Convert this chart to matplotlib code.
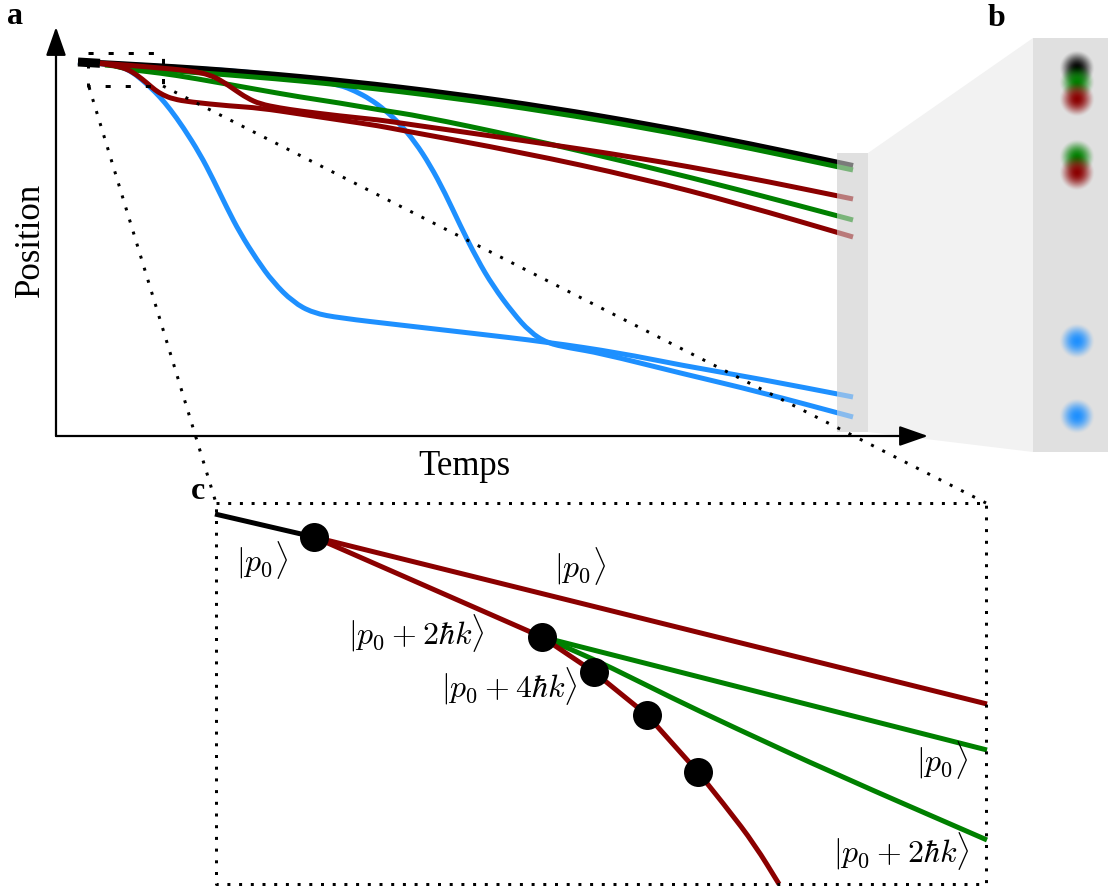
import numpy as np
import matplotlib
matplotlib.use('Agg')
import matplotlib.pyplot as plt
from matplotlib.path import Path
from matplotlib.patches import PathPatch, Rectangle, Polygon
from matplotlib.colors import to_rgb

plt.rcParams['mathtext.fontset'] = 'cm'
plt.rcParams['font.family'] = ['Liberation Serif', 'DejaVu Serif']

# ---------------- data (figure pixel coordinates) -------------
BLUE = '#1E90FF'
GREEN = '#008000'
RED = '#8B0000'
BLACK = '#000000'

# panel a trajectories
black_x = [78, 150, 250, 350, 450, 550, 650, 750, 853]
black_y = [62, 65.4, 72.3, 81.7, 93.6, 107.9, 124.8, 144.1, 166]

greenA_x = [105, 150, 250, 350, 450, 550, 650, 750, 853]
greenA_y = [65, 69.4, 76.3, 85.7, 97.6, 111.9, 128.8, 148.1, 170]

greenB_x = [115, 125, 160, 193, 260, 300, 340, 380, 420, 520, 640, 740, 853]
greenB_y = [66, 69, 73, 78, 90, 97, 103, 110, 116, 137, 165, 190, 220]

red1_x = [100, 150, 193, 210, 222, 235, 247, 260, 280, 300, 340, 380, 400, 520, 640, 740, 853]
red1_y = [63, 67, 71, 75, 81, 90, 98, 104, 108, 111, 116, 120, 123, 140, 158, 176, 199]

red2_x = [100, 115, 127, 137, 147, 155, 163, 173, 190, 230, 260, 300, 340, 380, 400, 520, 640, 740, 853]
red2_y = [63.5, 65.5, 69, 75, 83, 90, 95, 99, 102, 106, 108, 114, 120, 126, 130, 152, 178, 204, 237]

blue1_x = [78, 110, 122, 132, 141, 150, 160, 170, 183, 200, 213, 227, 240, 257, 273, 293, 313, 340,
           400, 470, 547, 620, 680, 760, 853]
blue1_y = [62, 64, 67, 72, 79, 87, 97, 109, 127, 154, 179, 208, 233, 260, 282, 302, 313, 318,
           325, 333, 342, 353, 365, 379, 397]

blue2_x = [78, 200, 300, 340, 355, 370, 385, 400, 415, 430, 445, 460, 477, 493, 513, 530, 547,
           570, 600, 680, 760, 853]
blue2_y = [62, 68, 77, 85, 91, 99, 110, 124, 142, 165, 193, 225, 259, 286, 313, 332, 343,
           348, 353, 373, 392, 417]

# panel b: atom clouds (x, y, colour)
cloud_x = [1077, 1077, 1077, 1077, 1077, 1077, 1077]
cloud_y = [68, 82, 99, 157, 173, 341, 416]
cloud_c = [BLACK, GREEN, RED, GREEN, RED, BLUE, BLUE]

# panel c
c_black_x = [215, 314]
c_black_y = [514, 537]
c_redup_x = [314, 987]
c_redup_y = [537, 704]
c_redlow_x = [314, 542, 594, 647, 698]
c_redlow_y = [537, 637, 672, 715, 772]
c_redtail_x = [698, 727, 755, 779]
c_redtail_y = [772, 808, 845, 884]
c_greenup_x = [542, 987]
c_greenup_y = [637, 750]
c_greenlow_x = [542, 575, 610, 670, 733, 833, 987]
c_greenlow_y = [637, 651, 667, 697, 727, 773, 840]
dots_x = [314, 542, 594, 647, 698]
dots_y = [537, 637, 672, 715, 772]

c_labels = [r'$|p_0\rangle$', r'$|p_0\rangle$', r'$|p_0 + 2\hbar k\rangle$',
            r'$|p_0 + 4\hbar k\rangle$', r'$|p_0\rangle$', r'$|p_0 + 2\hbar k\rangle$']
c_label_x = [262, 580, 416, 509, 942, 901]
c_label_y = [560, 566, 633, 686, 760, 851]

# ---------------- drawing -------------
PX = 0.72  # points per pixel at dpi 100
LWC = 5.0  # coloured line width in px

fig = plt.figure(figsize=(11.08, 8.88), dpi=100)
ax = fig.add_axes([0, 0, 1, 1])
ax.set_xlim(0, 1108)
ax.set_ylim(888, 0)
ax.axis('off')


def smooth_path(xs, ys):
    pts = np.column_stack([xs, ys]).astype(float)
    verts = [pts[0]]
    codes = [Path.MOVETO]
    for i in range(1, len(pts) - 1):
        mid = (pts[i] + pts[i + 1]) / 2
        verts += [pts[i], mid]
        codes += [Path.CURVE3, Path.CURVE3]
    verts.append(pts[-1])
    codes.append(Path.LINETO)
    return Path(verts, codes)


def curve(xs, ys, color, lw_px, z):
    p = PathPatch(smooth_path(xs, ys), fill=False, edgecolor=color,
                  lw=lw_px * PX, zorder=z, capstyle='butt', joinstyle='round')
    ax.add_patch(p)


# grey screens (panel a end + panel b)
GREY = '#e0e0e0'
ax.add_patch(Rectangle((837, 153), 31, 279, facecolor=GREY, edgecolor='none', zorder=1))
ax.add_patch(Polygon([(868, 153), (1033, 38), (1033, 452), (868, 432)],
                     closed=True, facecolor='#f2f2f2', edgecolor='none', zorder=1))
ax.add_patch(Rectangle((1033, 38), 75, 414, facecolor=GREY, edgecolor='none', zorder=1))

# trajectories panel a
curve(blue1_x, blue1_y, BLUE, LWC, 2)
curve(blue2_x, blue2_y, BLUE, LWC, 2)
curve(black_x, black_y, BLACK, 6, 3)
ax.plot([78, 100], [62, 63.3], color=BLACK, lw=9 * PX, solid_capstyle='butt', zorder=3)
curve(greenA_x, greenA_y, GREEN, LWC, 4)
curve(greenB_x, greenB_y, GREEN, LWC, 4)
curve(red1_x, red1_y, RED, LWC, 5)
curve(red2_x, red2_y, RED, LWC, 5)

# translucent screen over the line ends
ax.add_patch(Rectangle((837, 153), 31, 279, facecolor=GREY, edgecolor='none',
                       alpha=0.55, zorder=6))

# axes arrows
arrow_kw = dict(arrowstyle='-|>,head_length=0.8,head_width=0.28', color='k',
                lw=1.6, shrinkA=0, shrinkB=0, mutation_scale=22)
ax.annotate('', xy=(56, 27), xytext=(56, 436), arrowprops=arrow_kw, zorder=8)
ax.annotate('', xy=(928, 436), xytext=(56, 436), arrowprops=arrow_kw, zorder=8)

# atom clouds panel b
gx = np.linspace(-20, 20, 81)
GX, GY = np.meshgrid(gx, gx)
R = np.hypot(GX, GY)
alpha = np.clip(1 - (R / 18.0) ** 2, 0, 1) ** 1.6
for cx, cy, col in zip(cloud_x, cloud_y, cloud_c):
    rgba = np.zeros((81, 81, 4))
    rgba[..., :3] = to_rgb(col)
    rgba[..., 3] = alpha
    ax.imshow(rgba, extent=(cx - 20, cx + 20, cy + 20, cy - 20), interpolation='bilinear',
              zorder=3, aspect='auto')
ax.set_xlim(0, 1108)
ax.set_ylim(888, 0)

# zoom box in panel a + connecting dotted lines
dash_kw = dict(color='k', lw=3 * PX, dashes=(1.7, 5), zorder=7)
ax.plot([88, 163, 163, 88, 88], [53, 53, 86, 86, 53], **dash_kw)
dot_kw = dict(color='k', lw=3 * PX, dashes=(1, 3.2), zorder=7)
ax.plot([89, 216], [87, 503], **dot_kw)
ax.plot([163, 986], [86, 503], **dot_kw)

# panel c box
ax.plot([216, 986, 986, 216, 216], [503, 503, 884, 884, 503], color='k', lw=3 * PX,
        dashes=(1, 2.9), zorder=7)

# panel c lines
LW = LWC * PX
ax.plot(c_black_x, c_black_y, color=BLACK, lw=LW, zorder=4, solid_capstyle='butt')
ax.plot(c_redup_x, c_redup_y, color=RED, lw=LW, zorder=5, solid_capstyle='butt')
ax.plot(c_greenup_x, c_greenup_y, color=GREEN, lw=LW, zorder=4, solid_capstyle='butt')
curve(c_greenlow_x, c_greenlow_y, GREEN, LWC, 4)
ax.plot(c_redlow_x, c_redlow_y, color=RED, lw=LW, zorder=5, solid_capstyle='round',
        solid_joinstyle='round')
curve(c_redtail_x, c_redtail_y, RED, LWC, 5)
ax.scatter(dots_x, dots_y, s=(29 * PX) ** 2, color='k', zorder=9, linewidths=0)

for t, x, y in zip(c_labels, c_label_x, c_label_y):
    ax.text(x, y, t, fontsize=23, ha='center', va='center', zorder=10)

# texts
ax.text(30, 240, 'Position', fontsize=25, rotation=90, ha='center', va='center')
ax.text(464, 466, 'Temps', fontsize=25, ha='center', va='center')
ax.text(15, 17, 'a', fontsize=23, fontweight='bold', ha='center', va='center')
ax.text(996, 19, 'b', fontsize=23, fontweight='bold', ha='center', va='center')
ax.text(198, 491, 'c', fontsize=23, fontweight='bold', ha='center', va='center')

fig.savefig('out.png', dpi=100)
